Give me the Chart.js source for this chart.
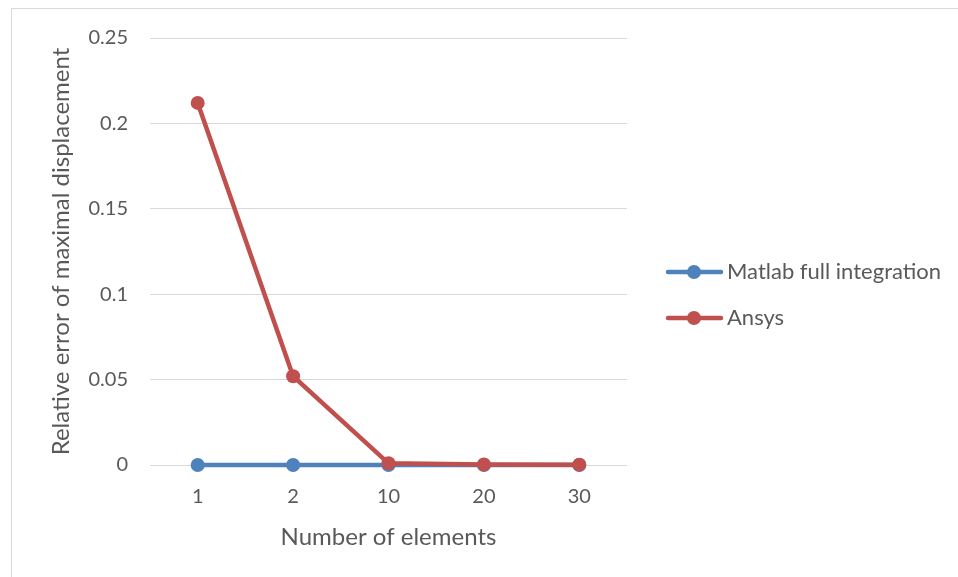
<!DOCTYPE html>
<html>
<head>
<meta charset="utf-8">
<script src="https://cdn.jsdelivr.net/npm/chart.js@4/dist/chart.umd.min.js"></script>
<style>
  html, body { margin: 0; padding: 0; background: #fff; }
  #wrap { width: 958px; height: 577px; }
</style>
</head>
<body>
<div id="wrap"><canvas id="chart" width="958" height="577"></canvas></div>
<script>
// data
var elements = ["1", "2", "10", "20", "30"];
var matlabFull = [0, 0, 0, 0, 0];
var ansys = [0.212, 0.052, 0.001, 0.0003, 0.0002];
var yTicks = [0, 0.05, 0.1, 0.15, 0.2, 0.25];

var blue = "#4f81bd";
var red = "#c0504d";
var fontName = "Lato, 'Open Sans', sans-serif";

// frame round the chart and a legend drawn like the original (line + marker)
var framePlugin = {
  id: "frame",
  beforeDraw: function (chart) {
    var ctx = chart.ctx;
    ctx.save();
    ctx.strokeStyle = "#d9d9d9";
    ctx.lineWidth = 1;
    ctx.strokeRect(11.5, 8.5, 1000, 700);
    ctx.restore();
  },
  afterDraw: function (chart) {
    var ctx = chart.ctx;
    var items = [
      { label: "Matlab full integration", color: blue, y: 272 },
      { label: "Ansys", color: red, y: 318 }
    ];
    ctx.save();
    items.forEach(function (it) {
      ctx.strokeStyle = it.color;
      ctx.lineWidth = 4.5;
      ctx.lineCap = "round";
      ctx.beginPath();
      ctx.moveTo(668, it.y);
      ctx.lineTo(721, it.y);
      ctx.stroke();
      ctx.fillStyle = it.color;
      ctx.beginPath();
      ctx.arc(694, it.y, 7, 0, Math.PI * 2);
      ctx.fill();
      ctx.fillStyle = "#595959";
      ctx.font = "22px " + fontName;
      ctx.textBaseline = "middle";
      ctx.fillText(it.label, 727, it.y);
    });
    ctx.restore();
  }
};

new Chart(document.getElementById("chart"), {
  type: "line",
  data: {
    labels: elements,
    datasets: [
      {
        label: "Matlab full integration",
        data: matlabFull,
        borderColor: blue,
        backgroundColor: blue,
        borderWidth: 4.5,
        pointRadius: 7,
        pointHoverRadius: 7,
        pointBorderWidth: 0,
        tension: 0,
        clip: false,
        order: 2
      },
      {
        label: "Ansys",
        data: ansys,
        borderColor: red,
        backgroundColor: red,
        borderWidth: 4.5,
        pointRadius: 7,
        pointHoverRadius: 7,
        pointBorderWidth: 0,
        tension: 0,
        clip: false,
        order: 1
      }
    ]
  },
  options: {
    responsive: false,
    animation: false,
    layout: { padding: { left: 40, right: 331, top: 38, bottom: 0 } },
    plugins: {
      legend: { display: false },
      tooltip: { enabled: false }
    },
    scales: {
      x: {
        offset: true,
        grid: { display: false, drawTicks: false },
        border: { display: false },
        ticks: { color: "#595959", font: { family: fontName, size: 20 }, padding: 20 },
        title: {
          display: true,
          text: "Number of elements",
          color: "#595959",
          font: { family: fontName, size: 24 },
          padding: { top: 0, bottom: 25 }
        },
        afterFit: function (scale) { scale.height = 577 - 465; }
      },
      y: {
        min: 0,
        max: 0.25,
        afterBuildTicks: function (scale) {
          scale.ticks = yTicks.map(function (v) { return { value: v }; });
        },
        grid: { color: "#d9d9d9", lineWidth: 1, drawTicks: false },
        border: { display: false },
        ticks: {
          color: "#595959",
          font: { family: fontName, size: 20 },
          padding: 22,
          callback: function (v) { return String(v); }
        },
        title: {
          display: true,
          text: "Relative error of maximal displacement",
          color: "#595959",
          font: { family: fontName, size: 24 },
          padding: { top: 7, bottom: 0 }
        },
        afterFit: function (scale) { scale.width = 150 - 40; }
      }
    }
  },
  plugins: [framePlugin]
});
</script>
</body>
</html>
